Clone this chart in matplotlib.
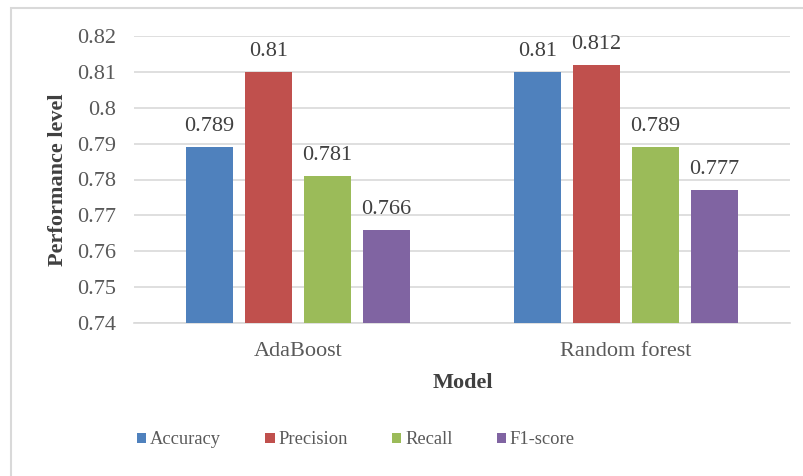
import matplotlib
matplotlib.use("Agg")
import matplotlib.pyplot as plt
import numpy as np
from matplotlib.patches import Rectangle, Patch

models = ["AdaBoost", "Random forest"]
metrics = ["Accuracy", "Precision", "Recall", "F1-score"]
accuracy = [0.789, 0.81]
precision = [0.81, 0.812]
recall = [0.781, 0.789]
f1_score = [0.766, 0.777]
yticks = [0.74, 0.75, 0.76, 0.77, 0.78, 0.79, 0.80, 0.81, 0.82]
ytick_labels = ["0.74", "0.75", "0.76", "0.77", "0.78", "0.79", "0.8", "0.81", "0.82"]
value_labels = [["0.789", "0.81"], ["0.81", "0.812"], ["0.781", "0.789"], ["0.766", "0.777"]]

colors = ["#4F81BD", "#C0504D", "#9BBB59", "#8064A2"]
text_color = "#595959"
grid_color = "#D9D9D9"

plt.rcParams["font.family"] = ["Liberation Serif", "DejaVu Serif"]
fs = 16

fig = plt.figure(figsize=(8.04, 4.76), dpi=100)
fig.patch.set_facecolor("white")

# chart area frame (left and top edges visible)
fig.patches.append(Rectangle((11 / 804, -0.05), 1.2, 1 - 8 / 476 + 0.05,
                             transform=fig.transFigure, fill=False,
                             edgecolor="#D9D9D9", linewidth=1.5))

ax = fig.add_axes([134 / 804, 1 - 323 / 476, (790 - 134) / 804, (323 - 36) / 476])

series = [accuracy, precision, recall, f1_score]
x = np.arange(len(models))
step = 0.18
width = 0.143
for i, (vals, col) in enumerate(zip(series, colors)):
    pos = x + (i - 1.5) * step
    ax.bar(pos, np.array(vals) - 0.74, bottom=0.74, width=width, color=col, zorder=3)
    for p, v, lab in zip(pos, vals, value_labels[i]):
        ax.annotate(lab, (p, v), xytext=(0, 8), textcoords="offset points",
                    ha="center", va="bottom", fontsize=fs, color="#404040")

ax.set_xlim(-0.5, 1.5)
ax.set_ylim(0.74, 0.82)
ax.set_yticks(yticks)
ax.set_yticklabels(ytick_labels)
ax.set_xticks(x)
ax.set_xticklabels(models)
ax.tick_params(axis="both", length=0, labelsize=fs, labelcolor=text_color)
ax.tick_params(axis="y", pad=13)
ax.tick_params(axis="x", pad=14)
ax.grid(axis="y", color=grid_color, linewidth=1.2, zorder=0)
for s in ["top", "right", "left"]:
    ax.spines[s].set_visible(False)
ax.spines["bottom"].set_color(grid_color)
ax.spines["bottom"].set_linewidth(1.2)

fig.text(58 / 804, 1 - 180 / 476, "Performance level", rotation=90, ha="center", va="center",
         fontsize=fs, fontweight="bold", color="#404040")
fig.text(463 / 804, 1 - 383 / 476, "Model", ha="center", va="center",
         fontsize=fs, fontweight="bold", color="#404040")

handles = [Patch(facecolor=c, edgecolor="none") for c in colors]
fig.legend(handles, metrics, loc="center", bbox_to_anchor=(356 / 804, 1 - 440 / 476),
           ncol=4, frameon=False, fontsize=13.3, handlelength=0.5, handleheight=0.5,
           handletextpad=0.2, columnspacing=2.4, labelcolor=text_color)

fig.savefig("out.png", dpi=100, facecolor="white")
